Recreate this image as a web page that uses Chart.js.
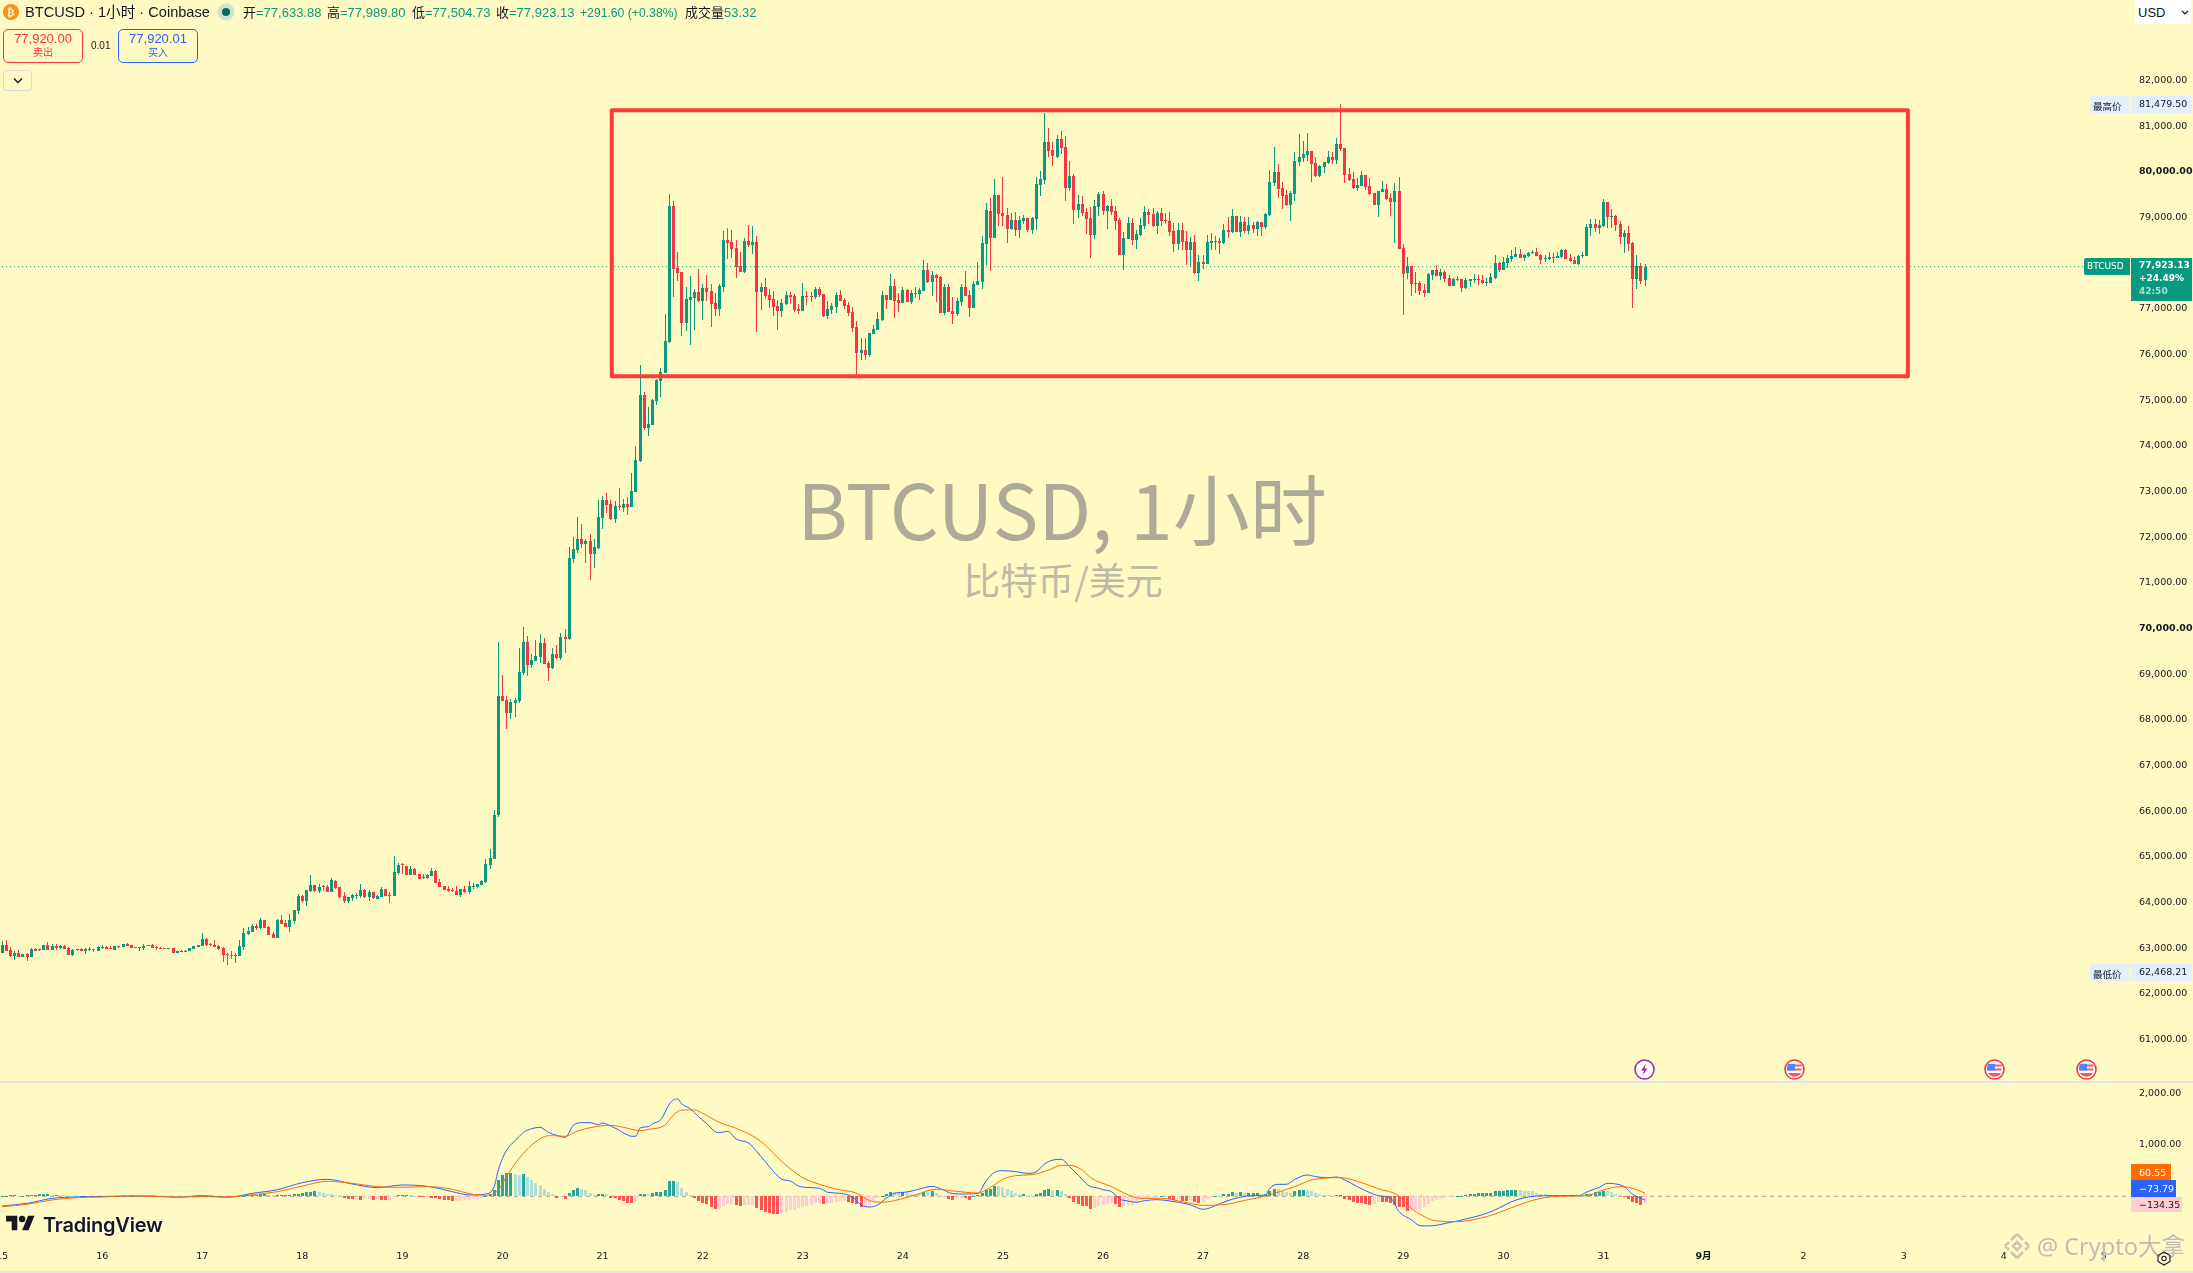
<!DOCTYPE html>
<html>
<head>
<meta charset="utf-8">
<title>BTCUSD</title>
<script src="https://cdn.jsdelivr.net/npm/chart.js@4"></script>
<style>
html, body { margin: 0; padding: 0; background: #FFF9C4; }
body { width: 2193px; height: 1273px; position: relative; overflow: hidden; font-family: "Liberation Sans", "Noto Sans CJK SC", sans-serif; color: #131722; }
canvas { position: absolute; left: 0; }
#priceChart { top: 0; }
#macdChart { top: 1083px; }
.t { position: absolute; white-space: nowrap; line-height: 1; }
.g { color: #089981; }
.head { font-size: 13px; top: 6px; }
.box { position: absolute; box-sizing: border-box; }
.axis { position: absolute; white-space: nowrap; font: 9.5px "DejaVu Sans", "Noto Sans CJK SC", sans-serif; text-align: left; }
.sep { position: absolute; left: 0; width: 2193px; height: 2px; background: #E4E6EC; }
.mark { position: absolute; text-align: center; transform: translate(-50%, -50%); white-space: nowrap; font-family: "Noto Sans CJK SC", sans-serif; }
svg { position: absolute; }
</style>
</head>
<body>

<div class="mark" style="left:1062px;top:506px;font-size:77px;color:#ADAB98">BTCUSD, 1小时</div>
<div class="mark" style="left:1063px;top:579px;font-size:37px;color:#BDBBA6">比特币/美元</div>

<canvas id="priceChart" width="2193" height="1082" style="width:2193px;height:1082px"></canvas>
<canvas id="macdChart" width="2193" height="189" style="width:2193px;height:189px"></canvas>

<div class="sep" style="top:1081px"></div>
<div class="sep" style="top:1271px"></div>

<!-- header -->
<svg style="left:3px;top:4px" width="16" height="16" viewBox="0 0 16 16"><circle cx="8" cy="8" r="8" fill="#F7931A"/><text x="8" y="12" font-size="11" font-weight="bold" text-anchor="middle" fill="#fff" font-family="DejaVu Sans">₿</text></svg>
<div class="t" style="left:25px;top:5px;font-size:14.6px">BTCUSD · 1小时 · Coinbase</div>
<svg style="left:217px;top:3px" width="18" height="18" viewBox="0 0 18 18"><circle cx="9" cy="9" r="8.5" fill="#CDE5CC"/><circle cx="9" cy="9" r="4" fill="#0B6B5B"/></svg>
<div class="t head" style="left:243px">开<span class="g">=77,633.88</span></div>
<div class="t head" style="left:327px">高<span class="g">=77,989.80</span></div>
<div class="t head" style="left:412px">低<span class="g">=77,504.73</span></div>
<div class="t head" style="left:496px">收<span class="g">=77,923.13</span></div>
<div class="t head g" style="left:580px;font-size:12.2px;top:7px">+291.60 (+0.38%)</div>
<div class="t head" style="left:685px">成交量<span class="g">53.32</span></div>

<div class="box" style="left:3px;top:29px;width:80px;height:34px;border:1px solid #F23645;border-radius:5px"></div>
<div class="t" style="left:3px;width:80px;text-align:center;top:32px;font-size:13px;color:#F23645">77,920.00</div>
<div class="t" style="left:3px;width:80px;text-align:center;top:48px;font-size:10px;color:#F23645">卖出</div>
<div class="t" style="left:91px;top:41px;font-size:10px">0.01</div>
<div class="box" style="left:118px;top:29px;width:80px;height:34px;border:1px solid #2962FF;border-radius:5px"></div>
<div class="t" style="left:118px;width:80px;text-align:center;top:32px;font-size:13px;color:#2962FF">77,920.01</div>
<div class="t" style="left:118px;width:80px;text-align:center;top:48px;font-size:10px;color:#2962FF">买入</div>
<div class="box" style="left:3px;top:70px;width:29px;height:21px;border:1px solid #D9DADB;border-radius:3px"></div>
<svg style="left:13px;top:77px" width="10" height="7" viewBox="0 0 10 7"><path d="M1 1.5 5 5.5 9 1.5" fill="none" stroke="#131722" stroke-width="1.4"/></svg>

<!-- price axis labels -->
<div class="box" style="left:2135px;top:0;width:56px;height:24px;background:#fff;border-radius:0 0 4px 4px"></div>
<div class="t" style="left:2138px;top:6px;font-size:13px">USD</div>
<svg style="left:2181px;top:10px" width="8" height="5" viewBox="0 0 8 5"><path d="M1 1 4 4 7 1" fill="none" stroke="#131722" stroke-width="1.2"/></svg>

<div class="box" style="left:2090px;top:96px;width:40px;height:17px;background:#E3EFFD;border-radius:2px 0 0 2px"></div>
<div class="box" style="left:2131px;top:96px;width:61px;height:17px;background:#E3EFFD;border-radius:0 2px 2px 0"></div>
<div class="axis" style="left:2093px;top:99px">最高价</div>
<div class="axis" style="left:2139px;top:98px">81,479.50</div>

<div class="box" style="left:2090px;top:964px;width:40px;height:17px;background:#E3EFFD;border-radius:2px 0 0 2px"></div>
<div class="box" style="left:2131px;top:964px;width:61px;height:17px;background:#E3EFFD;border-radius:0 2px 2px 0"></div>
<div class="axis" style="left:2093px;top:967px">最低价</div>
<div class="axis" style="left:2139px;top:966px">62,468.21</div>

<div class="box" style="left:2084px;top:258px;width:46px;height:17px;background:#089981;border-radius:2px 0 0 2px"></div>
<div class="axis" style="left:2087px;top:261px;color:#fff;font-size:9px">BTCUSD</div>
<div class="box" style="left:2131px;top:258px;width:61px;height:43px;background:#089981"></div>
<div class="axis" style="left:2139px;top:260px;color:#fff;font-size:9px;font-weight:bold">77,923.13</div>
<div class="axis" style="left:2139px;top:273px;color:#fff;font-size:9px;font-weight:bold">+24.49%</div>
<div class="axis" style="left:2139px;top:286px;color:#A6E0D4;font-size:9px;font-weight:bold">42:50</div>

<!-- macd axis labels -->
<div class="box" style="left:2131px;top:1164px;width:40px;height:17px;background:#FF6D00"></div>
<div class="axis" style="left:2139px;top:1167px;color:#fff">60.55</div>
<div class="box" style="left:2131px;top:1180px;width:45px;height:17px;background:#2962FF"></div>
<div class="axis" style="left:2139px;top:1183px;color:#fff">−73.79</div>
<div class="box" style="left:2131px;top:1197px;width:51px;height:15px;background:#FFCDD2"></div>
<div class="axis" style="left:2139px;top:1199px">−134.35</div>

<!-- event icons -->
<svg style="left:1634px;top:1059px" width="21" height="21" viewBox="0 0 21 21"><circle cx="10.5" cy="10.5" r="9.5" fill="#fff" stroke="#9C27B0" stroke-width="1.6"/><path d="M12 4.5 7 11.5h3l-1.5 5 5-7h-3z" fill="#9C27B0"/></svg>
<svg style="left:1784px;top:1059px" width="21" height="21" viewBox="0 0 21 21"><use href="#flag"/></svg>
<svg style="left:1984px;top:1059px" width="21" height="21" viewBox="0 0 21 21"><use href="#flag"/></svg>
<svg style="left:2076px;top:1059px" width="21" height="21" viewBox="0 0 21 21"><use href="#flag"/></svg>
<svg width="0" height="0"><defs><g id="flag"><circle cx="10.5" cy="10.5" r="9.5" fill="#fff" stroke="#F23645" stroke-width="1.6"/><path d="M3.5 6.5h14M3.5 10.5h14" stroke="#F25A66" stroke-width="1.8"/><path d="M4 14h13a7.5 7.5 0 0 1-13 0z" fill="#F25A66"/><path d="M4.5 4.8h6.5v6.7H3.2a8 8 0 0 1 1.3-6.7z" fill="#4F86F7"/></g></defs></svg>

<!-- logo, watermark, settings -->
<svg style="left:5px;top:1215px" width="31" height="16" viewBox="0 3 36 20"><path d="M14 22H7V11H0V4h14v18zM28 22h-8l7.500-18h8L28 22z" fill="#131722"/><circle cx="20" cy="8" r="4" fill="#131722"/></svg>
<div class="t" style="left:43px;top:1213px;font:600 20px Inter,sans-serif;letter-spacing:-0.2px;text-shadow:0 0 2px #fff,0 0 2px #fff">TradingView</div>
<svg style="left:2003px;top:1232px" width="28" height="28" viewBox="0 0 28 28"><g fill="none" stroke="#C9C7B6" stroke-width="2.500"><path d="M14 2 8 8M14 2l6 6M2 14l4-4M26 14l-4-4M2 14l4 4M26 14l-4 4M14 26l-6-6M14 26l6-6M14 10l4 4-4 4-4-4z"/></g></svg>
<div class="t" style="left:2037px;top:1228px;font:23.5px 'Noto Sans',  'Noto Sans CJK SC',sans-serif;color:#BFBDAC;text-shadow:0 0 1px #fff">@ Crypto大拿</div>
<svg style="left:2157px;top:1251px" width="14" height="15" viewBox="0 0 14 15"><path d="M7 1 13 4.500v6L7 14 1 10.500v-6z" fill="none" stroke="#131722" stroke-width="1.1"/><circle cx="7" cy="7.500" r="2.200" fill="none" stroke="#131722" stroke-width="1.1"/></svg>

<script>
// Candles, one value per hour from Aug 15 00:00
const opens = [
62892,63067,62958,62827,62892,62805,62870,62805,62980,62958,
62958,63067,62958,63046,63002,63046,63002,62848,62958,62980,
62936,62958,62973,62936,63002,63024,63002,62958,63038,63024,
63089,63067,63024,63009,63002,63053,63067,63024,63009,63002,
62987,63002,62892,62914,62921,62936,62980,63024,63046,63199,
63089,63067,63046,63002,62870,62848,62841,62827,63024,63308,
63352,63484,63440,63615,63462,63308,63221,63615,63549,63462,
63593,63812,64140,64031,64243,64381,64250,64352,64338,64228,
64469,64338,64140,64031,64097,64148,64140,64272,64119,64228,
64075,64119,64294,64162,64140,64644,64834,64798,64600,64732,
64622,64542,64535,64579,64688,64447,64360,64294,64272,64250,
64162,64294,64228,64345,64338,64381,64447,64819,64951,
65910,68517,68429,68144,68363,68407,69020,69699,69195,69283,
69371,69677,69239,69130,69436,69349,69809,69765,71517,71714,
71955,71845,71911,71626,71758,72415,72809,72721,72393,72678,
72634,72721,72656,72984,73663,75108,74386,74451,74977,75415,
75590,76269,79248,77890,77802,76685,77189,77233,77364,77167,
77452,77386,77123,76992,77474,78503,78459,78328,77934,77802,
78481,78393,78459,77364,77474,77299,77211,77058,76948,77101,
77299,77277,76992,76948,77277,77277,77255,77430,77320,76839,
76970,77036,77299,77189,77079,76926,76598,76028,76094,75985,
76444,76532,76751,77299,77189,77496,77189,77123,77408,77145,
77342,77320,77386,77846,77583,77736,77693,76904,77474,76948,
76882,77145,77474,77299,77014,77518,77583,78415,79138,78547,
79488,79094,79051,78744,78941,78722,78919,78985,78722,78963,
79707,79817,80649,80474,80321,80715,80540,79642,79905,79160,
79291,79116,78985,78613,79226,79510,79138,79248,79138,78941,
78174,78525,78875,78503,78613,78810,79116,79072,78810,79094,
78941,78919,78700,78415,78722,78481,78284,78459,77780,78021,
77978,78437,78459,78481,78437,78722,78678,79029,78678,78897,
78700,78832,78744,78897,78788,79051,79751,79992,79642,79488,
79270,79510,80211,80299,80364,80452,80189,79905,80102,80189,
80321,80255,80605,80518,79948,79839,79642,79686,79926,79686,
79532,79270,79554,79620,79423,79335,79576,78328,77780,77934,
77539,77561,77408,77342,77736,77846,77715,77802,77671,77496,
77649,77649,77452,77605,77627,77649,77627,77569,77561,77671,
78000,77846,78000,78087,78131,78196,78109,78153,78218,78240,
78174,78087,78087,78131,78109,78131,78284,78109,78065,77978,
78153,78153,78766,78853,78766,78810,79335,79007,79029,78853,
78569,78656,78437,77649,77934,77633.88];

const highs = [
63155,63177,63024,62936,62958,62870,62892,63002,63002,62980,
63067,63133,63089,63089,63067,63067,63024,62980,62973,63002,
63002,63024,62980,63046,63067,63046,63046,63046,63046,63089,
63111,63067,63024,63024,63089,63067,63089,63046,63024,63002,
63002,63002,62936,62958,62958,63002,63046,63067,63330,63221,
63111,63177,63067,63024,62892,62936,62892,63177,63440,63462,
63527,63527,63659,63615,63484,63352,63637,63725,63615,63746,
63834,64184,64162,64272,64600,64381,64403,64381,64381,64535,
64491,64338,64228,64119,64184,64206,64403,64294,64272,64228,
64162,64338,64294,64228,65017,64863,64863,64798,64798,64754,
64622,64622,64622,64754,64710,64513,64360,64360,64316,64360,
64294,64360,64469,64425,64403,64491,64951,65170,66024,
69699,68976,68517,68451,68473,69568,70028,69831,69436,69743,
69874,69787,69283,69568,69633,69896,69984,71780,71999,72437,
72283,71955,72064,71955,72809,72897,72962,72809,72787,73072,
72831,72875,73400,73992,75765,75174,74846,75021,75473,75700,
76882,79510,79357,78240,77802,77474,77715,77430,77868,77539,
77736,77539,77342,77539,78700,78766,78722,78503,78240,78547,
78831,78810,78591,77561,77671,77430,77386,77189,77211,77386,
77364,77320,77101,77561,77386,77364,77474,77474,77320,77167,
77123,77364,77408,77233,77145,77036,76729,76357,76357,76466,
76641,76926,77386,77299,77758,77649,77342,77474,77430,77408,
77474,77452,78065,78000,77824,77758,77715,77539,77539,77255,
77233,77539,77824,77408,77605,78021,78591,79313,79423,79839,
79488,79883,79204,79094,79116,79029,79051,78985,79007,79883,
80014,81284,80956,80649,80802,80890,80781,80233,79948,79488,
79467,79204,79226,79379,79554,79576,79270,79401,79248,78985,
78678,79007,78985,78722,78985,79248,79182,79204,79138,79204,
79094,79116,78875,78875,78875,78700,78569,78613,78174,78174,
78613,78656,78591,78547,78853,79007,79182,79029,79029,79007,
79007,78897,78919,78897,79094,80036,80540,80167,79773,79598,
79576,80430,80824,80671,80846,80452,80321,80146,80211,80452,
80430,80737,81479.5,80518,80080,79992,79861,80014,79926,79861,
79532,79576,79795,79729,79532,79751,79883,78415,78131,77934,
77802,77605,77539,77780,77846,77956,77868,77846,77736,77671,
77715,77649,77671,77649,77758,77736,77736,77671,77780,78174,
78021,78131,78174,78284,78350,78306,78196,78240,78284,78328,
78196,78174,78240,78218,78240,78306,78306,78196,78131,78174,
78240,78853,78963,78963,78941,79401,79335,79182,79051,78919,
78722,78810,78459,78174,78000,77989.8];

const lows = [
62892,62936,62805,62739,62805,62805,62717,62805,62936,62936,
62958,62958,62958,62958,62980,62980,62848,62827,62936,62936,
62870,62936,62914,62936,62980,62980,62980,62958,63002,63024,
63046,63002,63009,62936,62958,63053,63002,62958,62980,62987,
62987,62892,62892,62914,62914,62936,62980,63024,63046,63046,
63046,63024,62958,62695,62629,62761,62673,62827,62958,63286,
63352,63396,63418,63440,63286,63221,63221,63527,63462,63352,
63527,63746,63987,63922,64228,64228,64206,64250,64228,64228,
64294,64097,63987,63987,64031,64075,64097,64097,64031,64075,
64075,64119,64140,63987,64140,64600,64622,64600,64600,64600,
64513,64513,64513,64579,64425,64338,64272,64228,64228,64162,
64119,64206,64184,64294,64316,64381,64425,64732,64951,
65874,68407,67794,68013,68057,68363,68976,68955,69130,69283,
69239,69217,68845,69108,69327,69305,69458,69743,71429,71648,
71758,71429,71057,71320,71736,72174,72524,72371,72305,72590,
72546,72480,72656,72984,73641,74342,74211,74451,74889,75065,
75590,76247,77255,77605,76401,76510,76203,76532,77145,76751,
77167,76598,76839,76839,77364,78087,78109,77671,77802,77780,
78350,78196,76488,76970,77211,77014,76839,76532,76817,77079,
77101,76926,76882,76948,77079,77145,77211,77255,76817,76773,
76882,76904,77167,76992,76839,76488,75525,75875,75875,75941,
76444,76532,76729,76992,77189,76795,76926,77123,77145,77101,
77233,77189,77386,77561,77277,77145,76904,76861,76926,76663,
76839,77058,77277,76817,77014,77518,77430,77956,77824,78547,
78810,78810,78437,78722,78591,78547,78853,78678,78634,78722,
79467,79729,80321,80124,80299,80386,79357,79576,78853,78985,
79029,78634,78109,78525,79029,79051,78744,79051,78722,78174,
77846,78525,78393,78306,78591,78744,78853,78788,78634,78810,
78853,78591,78240,78284,78284,77956,77912,77758,77605,77868,
77978,78284,78284,78196,78415,78547,78656,78678,78569,78656,
78634,78656,78591,78591,78744,79029,79686,79423,79182,79248,
78919,79357,80124,80211,80233,79773,79883,79883,79970,80167,
80167,80167,80452,79751,79795,79620,79576,79686,79598,79488,
79270,79007,79554,79379,79029,78437,78306,76861,77649,77277,
77342,77299,77255,77342,77627,77715,77627,77583,77496,77496,
77605,77364,77430,77474,77561,77518,77539,77496,77561,77649,
77802,77846,77890,78021,78131,78109,78043,78131,78196,78153,
77978,78021,78065,78000,78109,78109,78087,78021,77978,77956,
78109,78153,78591,78678,78634,78788,78766,78766,78700,78415,
78218,78262,77014,77430,77539,77504.73];

const closes = [
63067,62936,62827,62892,62805,62870,62805,62980,62936,62980,
63067,62958,63046,63002,63046,62980,62848,62958,62973,62943,
62980,62980,62958,63024,63024,62980,62980,63046,63024,63089,
63046,63002,63009,63024,63046,63067,63002,63002,62995,62987,
63002,62892,62936,62936,62943,63002,63046,63067,63199,63067,
63067,63024,62980,62848,62856,62827,62856,63046,63330,63374,
63484,63440,63615,63440,63286,63221,63615,63527,63462,63615,
63834,64140,64031,64272,64381,64243,64338,64330,64228,64491,
64316,64119,64031,64119,64162,64162,64272,64119,64228,64097,
64140,64294,64140,64148,64666,64819,64819,64600,64732,64600,
64513,64557,64600,64688,64425,64338,64272,64250,64250,64162,
64294,64228,64360,64360,64403,64469,64841,64973,65914,
68517,68407,68144,68385,68429,69042,69699,69195,69305,69393,
69677,69217,69130,69436,69349,69809,69765,71539,71736,71955,
71845,71911,71626,71780,72437,72809,72699,72393,72678,72663,
72721,72656,73006,73685,75108,74386,74473,74999,75437,75612,
76291,79248,77868,77780,76685,77211,77255,77364,77167,77452,
77364,77101,76992,77496,78503,78437,78306,77912,77802,78481,
78393,78459,77364,77474,77277,77189,77036,76948,77123,77299,
77255,76970,76948,77277,77255,77255,77430,77299,76839,76992,
77058,77299,77167,77058,76904,76576,76028,76094,75985,76466,
76554,76773,77299,77189,77496,77167,77123,77408,77145,77342,
77327,77408,77846,77583,77736,77671,76904,77474,76926,76882,
77167,77474,77277,77014,77539,77605,78437,79160,78547,79488,
79072,79029,78744,78941,78722,78941,78985,78722,78985,79729,
79839,80649,80452,80343,80715,80518,79642,79905,79160,79291,
79094,78963,78613,79248,79510,79138,79248,79116,78919,78174,
78547,78875,78503,78634,78832,79116,79051,78810,79094,78919,
78919,78678,78415,78722,78459,78284,78459,77780,78021,77978,
78459,78481,78481,78437,78722,78678,79029,78678,78897,78700,
78832,78744,78897,78788,79072,79773,79992,79620,79467,79270,
79532,80233,80321,80386,80452,80167,79905,80124,80211,80321,
80255,80605,80496,79926,79817,79642,79707,79926,79664,79510,
79270,79576,79620,79401,79335,79576,78306,77758,77934,77539,
77561,77386,77342,77758,77846,77715,77802,77649,77496,77649,
77627,77452,77627,77649,77649,77627,77561,77583,77693,78000,
77846,78021,78109,78153,78196,78109,78174,78218,78240,78153,
78065,78109,78131,78109,78153,78284,78087,78043,77978,78153,
78174,78788,78853,78766,78832,79335,79007,79029,78832,78569,
78656,78415,77649,77934,77605,77923.13];

const lastPrice = 77923.13;

// MACD histogram per candle
const histogram = [
10,13,19,19,13,13,19,26,32,39,
39,45,26,32,26,19,13,10,6,6,
6,3,3,3,3,3,2,2,3,3,
2,2,-2,-2,-3,-3,-5,-13,-16,-16,
-13,-10,-6,-3,-3,-3,3,3,3,3,
3,3,3,2,-6,-10,-10,-6,6,19,
26,32,39,45,26,19,19,26,26,32,
39,52,65,78,91,97,84,71,52,39,
19,6,-39,-52,-58,-52,-65,-52,-52,-65,
-45,-65,-71,-71,-19,19,32,32,19,13,
-6,-19,-13,-26,-39,-52,-65,-78,-91,-91,
-84,-78,
-65,-60,-50,-30,10,52,129,324,421,453,
459,427,421,440,375,317,265,226,149,91,
52,-26,-20,-52,65,116,155,142,129,71,
32,52,52,45,-26,-39,-65,-97,-136,-137,
-91,52,53,50,58,91,92,129,298,299,
278,168,91,32,-26,-91,-129,-142,-207,-246,
-240,-181,-155,-142,-175,-188,-175,-170,-168,-233,
-272,-304,-330,-343,-344,-324,-298,-272,-259,-233,
-207,-181,-168,-136,-130,-149,-129,-128,-104,-91,
-90,-104,-123,-155,-207,-194,-162,-97,-32,13,
52,91,84,58,84,65,52,39,38,91,
84,104,71,13,6,-52,-65,-32,-30,-39,
-65,13,19,65,116,142,201,194,181,142,
97,58,39,45,13,12,45,71,123,142,
129,130,104,39,
-32,-110,-142,-181,-194,-239,-220,-181,-162,-155,
-136,-142,-207,-181,-175,-162,-123,-65,-52,-39,
-26,-19,13,12,-52,-71,-58,-84,-91,-71,
-116,-123,-110,-52,-32,13,12,45,46,84,
58,84,58,59,60,71,52,53,97,142,
141,97,78,65,110,123,124,123,104,58,
39,26,19,6,19,20,
-52,-71,-110,-123,-129,-142,-162,-149,-104,-116,
-117,-123,-175,-201,-202,-278,-262,-258,-255,-214,
-149,-97,-71,-45,-32,-13,-6,13,13,32,
45,46,65,65,66,71,110,111,112,123,
124,125,123,104,97,96,71,45,39,32,
31,26,19,18,17,16,13,6,39,52,
84,85,104,97,78,52,19,-6,-45,-104,
-129,-168,-134.35];

const macdAt = [0,6,12,18,24,30,36,42,48,54,60,66,72,78,84,90,96,102,108,112,116,118,119,120,121,122,124,125,127,129,131,133,135,137,139,141,143,144,146,148,150,151,152,153,155,156,158,160,161,162,163,165,167,169,171,172,174,176,179,181,183,185,187,189,191,194,196,198,201,204,206,208,210,212,214,217,220,223,225,228,231,234,236,238,240,243,246,248,250,252,254,256,258,261,262,264,266,267,268,270,272,274,277,280,283,285,288,290,292,295,298,301,303,304,306,308,310,313,315,318,320,322,325,328,330,333,335,338,340,342,347,352,356,359,362,366,372,378,380,383,385,387,389,391,394];
const macdValues = [-188,-136,-39,-13,-6,6,6,-19,13,-19,58,129,265,330,239,168,220,194,90,26,45,188,511,738,899,1000,1160,1240,1313,1340,1242,1184,1145,1380,1430,1430,1390,1423,1365,1280,1190,1165,1170,1326,1353,1410,1490,1792,1870,1889,1792,1702,1546,1410,1254,1235,1262,1113,1035,867,673,479,330,298,200,168,155,78,58,-19,-168,-207,-168,-39,58,84,142,194,149,52,45,58,304,466,498,479,446,479,628,705,718,576,414,188,175,129,91,26,-52,-91,-116,-84,-65,-91,-129,-168,-252,-214,-142,-58,0,13,26,155,233,233,330,414,382,362,375,317,188,71,13,-39,-298,-459,-569,-576,-511,-421,-330,-226,-104,-13,13,13,84,175,252,239,188,39,-73.79];
const signalAt = [0,6,12,18,24,30,36,42,48,54,60,66,72,78,84,90,96,102,108,112,116,119,121,124,127,130,132,135,138,141,146,149,153,155,159,161,163,166,168,172,176,180,183,187,192,196,200,205,208,211,214,219,224,228,234,237,240,243,247,251,254,256,259,261,266,269,273,278,283,288,293,298,303,308,310,314,321,326,330,335,337,340,344,349,354,358,363,368,373,380,384,388,391,394];
const signalValues = [-200,-155,-70,-26,-13,6,0,-13,-6,-13,32,90,200,291,252,188,175,188,136,52,19,123,395,738,996,1158,1178,1165,1268,1333,1378,1339,1275,1300,1385,1579,1676,1676,1611,1436,1320,1171,996,673,362,233,142,58,-84,-116,-84,26,136,104,65,175,330,401,421,511,602,602,511,362,188,65,-39,-39,-104,-175,-162,-78,6,136,188,317,362,265,149,6,-168,-349,-479,-492,-433,-343,-188,-58,0,13,123,188,155,60.55];

// Axis ticks
const priceTicks = [61000,62000,63000,64000,65000,66000,67000,68000,69000,70000,71000,72000,73000,74000,75000,76000,77000,78000,79000,80000,81000,82000];
const macdTicks = [1000,2000];
const dayTickAt = [0,24,48,72,96,120,144,168,192,216,240,264,288,312,336,360,384,408,432,456,480,504];
const dayTickLabels = ["15","16","17","18","19","20","21","22","23","24","25","26","27","28","29","30","31","9月","2","3","4","5"];

// The red range box: candle numbers and prices of its corners
const boxCandles = [146.2, 457];
const boxPrices = [75525, 81350];

const slots = 511; // candles that fit in the pane, future ones stay empty
const upColor = "#089981";
const downColor = "#F23645";
const axisFont = '"DejaVu Sans", "Noto Sans CJK SC", sans-serif';

const labels = [];
for (let i = 0; i < slots; i++) labels.push("");
dayTickAt.forEach((at, i) => { labels[at] = dayTickLabels[i]; });

const candleColors = opens.map((o, i) => closes[i] >= o ? upColor : downColor);
const histColors = histogram.map((v, i) => {
    const prev = i ? histogram[i - 1] : 0;
    if (v >= 0) return v >= prev ? "#26A69A" : "#B2DFDB";
    return v < prev ? "#FF5252" : "#FFCDD2";
});

function sparse(at, values) {
    const out = new Array(395).fill(null);
    at.forEach((pos, i) => { out[pos] = values[i]; });
    return out;
}

// Scales ask the layout for room around their first and last label, we don't want that
function noScalePadding(s) {
    s.paddingLeft = s.paddingRight = s.paddingTop = s.paddingBottom = 0;
}

// Keep bars on whole pixels, like the original chart
const crispBars = {
    id: "crispBars",
    beforeDatasetsDraw(chart) {
        chart.getSortedVisibleDatasetMetas().forEach(meta => {
            if (meta.type !== "bar") return;
            meta.data.forEach(el => {
                el.x = Math.floor(el.x) + 0.5;
                el.y = Math.round(el.y);
                el.base = Math.round(el.base);
                if (el.y === el.base) el.base = el.y + 1;
            });
        });
    }
};

const rangeBox = {
    id: "rangeBox",
    afterDatasetsDraw(chart) {
        const { ctx, scales } = chart;
        const x0 = scales.x.getPixelForValue(boxCandles[0]);
        const x1 = scales.x.getPixelForValue(boxCandles[1]);
        const y0 = scales.y.getPixelForValue(boxPrices[1]);
        const y1 = scales.y.getPixelForValue(boxPrices[0]);
        ctx.save();
        ctx.strokeStyle = "#FF3B37";
        ctx.lineWidth = 4;
        ctx.lineJoin = "round";
        ctx.strokeRect(x0, y0, x1 - x0, y1 - y0);
        ctx.restore();
    }
};

const barDefaults = { grouped: false, inflateAmount: 0, borderWidth: 0 };

new Chart(document.getElementById("priceChart").getContext("2d"), {
    type: "bar",
    data: {
        labels: labels,
        datasets: [
            { type: "line", data: labels.map(() => lastPrice), borderColor: upColor, borderWidth: 1, borderDash: [1, 3], pointRadius: 0, order: 3 },
            { data: lows.map((l, i) => [l, highs[i]]), backgroundColor: candleColors, barThickness: 1, order: 2, ...barDefaults },
            { data: opens.map((o, i) => [o, closes[i]]), backgroundColor: candleColors, barThickness: 3, order: 1, ...barDefaults }
        ]
    },
    options: {
        responsive: false,
        animation: false,
        events: [],
        layout: { autoPadding: false, padding: 0 },
        plugins: { legend: { display: false }, tooltip: { enabled: false } },
        scales: {
            x: { display: false },
            y: {
                position: "right",
                min: 60071,
                max: 83763,
                afterFit: s => { s.width = 62; noScalePadding(s); },
                afterBuildTicks: s => { s.ticks = priceTicks.map(v => ({ value: v })); },
                border: { display: false },
                grid: { display: false, drawTicks: false },
                ticks: {
                    padding: 8,
                    autoSkip: false,
                    color: "#131722",
                    font: c => ({ family: axisFont, size: 9.5, weight: c.tick && c.tick.value % 10000 === 0 ? "bold" : "normal" }),
                    callback: v => v.toLocaleString("en-US", { minimumFractionDigits: 2 })
                }
            }
        }
    },
    plugins: [crispBars, rangeBox]
});

new Chart(document.getElementById("macdChart").getContext("2d"), {
    type: "bar",
    data: {
        labels: labels,
        datasets: [
            { type: "line", data: labels.map(() => 0), borderColor: "#9E9E9E", borderWidth: 1, borderDash: [4, 4], pointRadius: 0, order: 4 },
            { data: histogram, backgroundColor: histColors, barThickness: 3, order: 3, ...barDefaults },
            { type: "line", data: sparse(macdAt, macdValues), borderColor: "#2962FF", borderWidth: 1, pointRadius: 0, spanGaps: true, cubicInterpolationMode: "monotone", order: 2 },
            { type: "line", data: sparse(signalAt, signalValues), borderColor: "#FF6D00", borderWidth: 1, pointRadius: 0, spanGaps: true, cubicInterpolationMode: "monotone", order: 1 }
        ]
    },
    options: {
        responsive: false,
        animation: false,
        events: [],
        layout: { autoPadding: false, padding: 0 },
        plugins: { legend: { display: false }, tooltip: { enabled: false } },
        scales: {
            x: {
                afterFit: s => { s.height = 32; noScalePadding(s); },
                afterBuildTicks: s => { s.ticks = dayTickAt.map(v => ({ value: v })); },
                border: { display: false },
                grid: { display: false, drawTicks: false },
                ticks: {
                    padding: 11,
                    autoSkip: false,
                    maxRotation: 0,
                    color: "#131722",
                    font: c => ({ family: axisFont, size: 9.5, weight: c.tick && c.tick.label === "9月" ? "bold" : "normal" })
                }
            },
            y: {
                position: "right",
                min: -848,
                max: 2200,
                afterFit: s => { s.width = 62; noScalePadding(s); },
                afterBuildTicks: s => { s.ticks = macdTicks.map(v => ({ value: v })); },
                border: { display: false },
                grid: { display: false, drawTicks: false },
                ticks: {
                    padding: 8,
                    autoSkip: false,
                    color: "#131722",
                    font: { family: axisFont, size: 9.5 },
                    callback: v => v.toLocaleString("en-US", { minimumFractionDigits: 2 })
                }
            }
        }
    },
    plugins: [crispBars]
});
</script>
</body>
</html>
